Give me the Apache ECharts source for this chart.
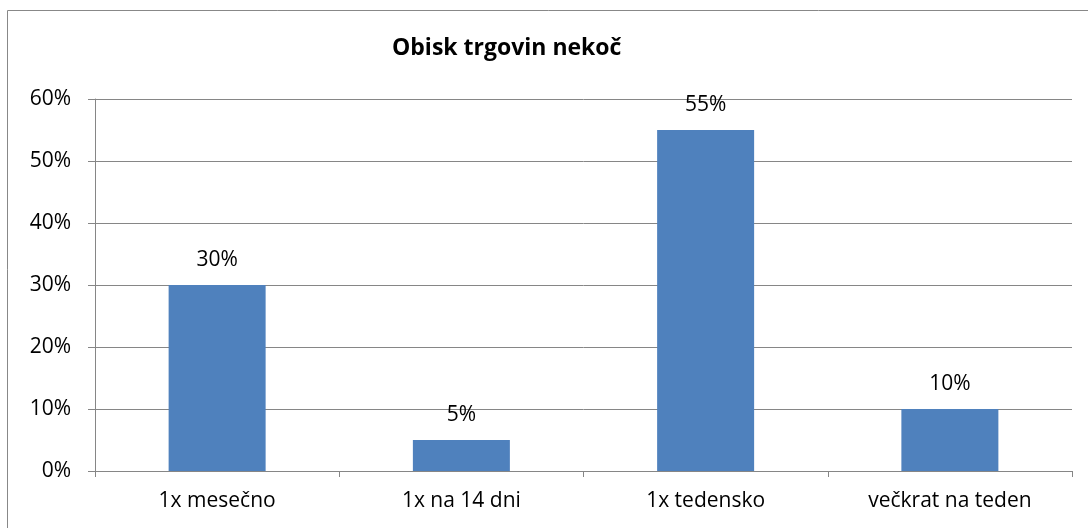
<!DOCTYPE html>
<html>
<head>
<meta charset="utf-8">
<script src="https://cdn.jsdelivr.net/npm/echarts@6/dist/echarts.min.js"></script>
<style>
  html, body { margin: 0; padding: 0; background: #fff; }
  #chart { width: 1088px; height: 528px; }
</style>
</head>
<body>
<div id="chart"></div>
<script>
const categories = ['1x mesečno', '1x na 14 dni', '1x tedensko', 'večkrat na teden']
const values = [30, 5, 55, 10]
const yTicks = [0, 10, 20, 30, 40, 50, 60]

const chart = echarts.init(document.getElementById('chart'))
const font = 'Open Sans'

const option = {
  animation: false,
  title: {
    text: 'Obisk trgovin nekoč',
    left: 387,
    top: 32,
    textStyle: { fontFamily: font, fontSize: 23, fontWeight: 'bold', color: '#000' }
  },
  graphic: [{
    type: 'rect',
    shape: { x: 7.5, y: 10.5, width: 1100, height: 600 },
    style: { fill: 'none', stroke: '#888', lineWidth: 1 },
    silent: true
  }],
  grid: { left: 95, right: 16, top: 99, bottom: 57 },
  xAxis: {
    type: 'category',
    data: categories,
    axisLine: { lineStyle: { color: '#868686' } },
    axisTick: { show: true, length: 6, lineStyle: { color: '#868686' } },
    axisLabel: { fontFamily: font, fontSize: 21, color: '#000', margin: 20 }
  },
  yAxis: {
    type: 'value',
    min: yTicks[0],
    max: yTicks[yTicks.length - 1],
    interval: 10,
    axisLine: { show: true, lineStyle: { color: '#868686' } },
    axisTick: { show: true, length: 7, lineStyle: { color: '#868686' } },
    splitLine: { lineStyle: { color: '#868686' } },
    axisLabel: { fontFamily: font, fontSize: 21, color: '#000', margin: 24, formatter: '{value}%' }
  },
  series: [{
    type: 'bar',
    data: values,
    barWidth: 97,
    itemStyle: { color: '#4F81BD' },
    label: {
      show: true,
      position: 'top',
      distance: 14,
      formatter: '{c}%',
      fontFamily: font,
      fontSize: 21,
      color: '#000'
    }
  }]
}

chart.setOption(option)
</script>
</body>
</html>
